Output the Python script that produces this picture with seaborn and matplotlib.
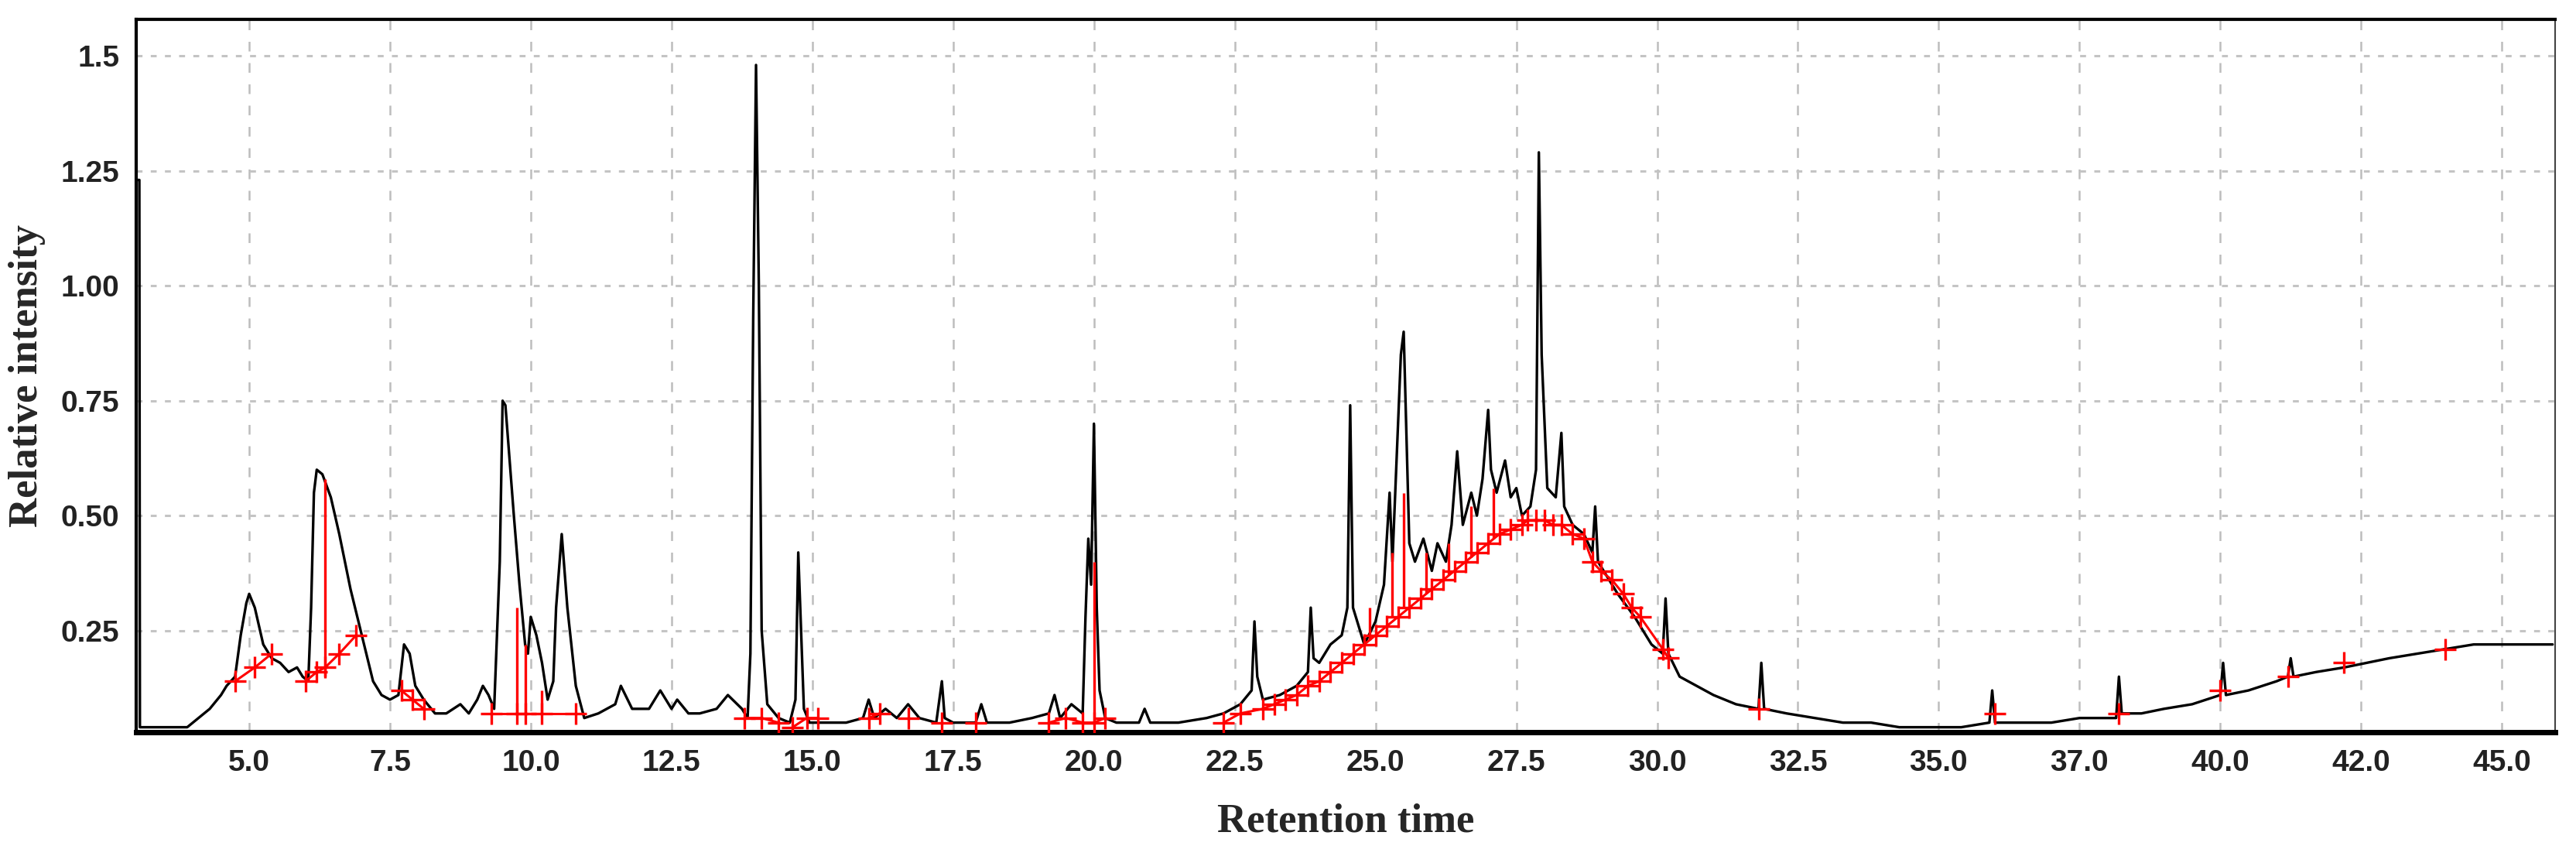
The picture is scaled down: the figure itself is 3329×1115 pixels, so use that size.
import matplotlib
matplotlib.use("Agg")
import matplotlib.pyplot as plt
import seaborn as sns
import pandas as pd

# chromatogram trace, vertices (retention time, intensity)
trace_rt = [3.00, 3.05, 3.06, 3.10, 3.5, 3.9, 4.1, 4.3, 4.5, 4.6, 4.75, 4.85, 4.95, 5.0, 5.1, 5.25, 5.4,
            5.55, 5.7, 5.85, 5.95, 6.05, 6.1, 6.15, 6.2, 6.3, 6.45, 6.6, 6.8, 7.0, 7.2, 7.35, 7.5,
            7.65, 7.75, 7.85, 7.95, 8.1, 8.3, 8.5, 8.75, 8.9, 9.05, 9.15, 9.25, 9.35, 9.45, 9.5, 9.55,
            9.7, 9.8, 9.9, 9.95, 10.0, 10.1, 10.2, 10.3, 10.4, 10.45, 10.55, 10.65, 10.8, 10.95, 11.2,
            11.5, 11.6, 11.8, 12.1, 12.3, 12.5, 12.6, 12.8, 13.0, 13.3, 13.5, 13.75, 13.85, 13.9, 13.95,
            14.0, 14.05, 14.1, 14.2, 14.4, 14.6, 14.7, 14.75, 14.8, 14.85, 14.95, 15.2, 15.6, 15.9,
            16.0, 16.1, 16.3, 16.5, 16.7, 16.9, 17.2, 17.3, 17.35, 17.5, 17.9, 18.0, 18.1, 18.5, 18.9,
            19.2, 19.3, 19.4, 19.6, 19.8, 19.85, 19.9, 19.95, 20.0, 20.05, 20.1, 20.2, 20.4, 20.8,
            20.9, 21.0, 21.5, 22.0, 22.3, 22.6, 22.8, 22.85, 22.9, 23.0, 23.3, 23.6, 23.8, 23.85,
            23.9, 24.0, 24.2, 24.4, 24.5, 24.55, 24.6, 24.8, 25.0, 25.15, 25.25, 25.3, 25.4, 25.45,
            25.5, 25.6, 25.7, 25.85, 26.0, 26.1, 26.25, 26.35, 26.45, 26.55, 26.7, 26.8, 26.9, 27.0,
            27.05, 27.15, 27.3, 27.4, 27.5, 27.6, 27.75, 27.85, 27.9, 27.95, 28.05, 28.2, 28.3, 28.35,
            28.5, 28.7, 28.85, 28.9, 28.95, 29.1, 29.3, 29.6, 29.9, 30.1, 30.15, 30.2, 30.4, 30.7,
            31.0, 31.4, 31.8, 31.85, 31.9, 32.3, 32.8, 33.3, 33.8, 34.3, 34.8, 35.4, 35.9, 35.95, 36.0,
            36.5, 37.0, 37.5, 38.0, 38.15, 38.2, 38.25, 38.6, 39.0, 39.5, 40.0, 40.05, 40.1, 40.5,
            41.0, 41.2, 41.25, 41.3, 41.7, 42.2, 42.6, 43.0, 43.5, 44.0, 44.5, 45.0, 45.5, 45.9]
trace_int = [1.23, 1.23, 0.04, 0.04, 0.04, 0.04, 0.06, 0.08, 0.11, 0.13, 0.15, 0.24, 0.31, 0.33, 0.30, 0.22, 0.19,
             0.18, 0.16, 0.17, 0.15, 0.14, 0.30, 0.55, 0.60, 0.59, 0.54, 0.46, 0.34, 0.24, 0.14, 0.11, 0.10,
             0.11, 0.22, 0.20, 0.13, 0.10, 0.07, 0.07, 0.09, 0.07, 0.10, 0.13, 0.11, 0.08, 0.40, 0.75, 0.74,
             0.50, 0.35, 0.22, 0.20, 0.28, 0.24, 0.18, 0.10, 0.14, 0.30, 0.46, 0.30, 0.13, 0.06, 0.07,
             0.09, 0.13, 0.08, 0.08, 0.12, 0.08, 0.10, 0.07, 0.07, 0.08, 0.11, 0.08, 0.06, 0.20, 0.93,
             1.48, 1.00, 0.25, 0.09, 0.06, 0.05, 0.10, 0.42, 0.25, 0.08, 0.05, 0.05, 0.05, 0.06,
             0.10, 0.06, 0.08, 0.06, 0.09, 0.06, 0.05, 0.14, 0.06, 0.05, 0.05, 0.09, 0.05, 0.05, 0.06,
             0.07, 0.11, 0.06, 0.09, 0.07, 0.28, 0.45, 0.35, 0.70, 0.30, 0.12, 0.06, 0.05, 0.05,
             0.08, 0.05, 0.05, 0.06, 0.07, 0.09, 0.12, 0.27, 0.15, 0.10, 0.11, 0.13, 0.16, 0.30,
             0.19, 0.18, 0.22, 0.24, 0.30, 0.74, 0.30, 0.22, 0.27, 0.35, 0.55, 0.40, 0.70, 0.85,
             0.90, 0.44, 0.40, 0.45, 0.38, 0.44, 0.40, 0.48, 0.64, 0.48, 0.55, 0.50, 0.58, 0.73,
             0.60, 0.55, 0.62, 0.54, 0.56, 0.50, 0.52, 0.60, 1.29, 0.85, 0.56, 0.54, 0.68, 0.52,
             0.48, 0.46, 0.42, 0.52, 0.40, 0.37, 0.33, 0.28, 0.22, 0.20, 0.32, 0.20, 0.15, 0.13,
             0.11, 0.09, 0.08, 0.18, 0.08, 0.07, 0.06, 0.05, 0.05, 0.04, 0.04, 0.04, 0.05, 0.12, 0.05,
             0.05, 0.05, 0.06, 0.06, 0.06, 0.15, 0.07, 0.07, 0.08, 0.09, 0.11, 0.18, 0.11, 0.12,
             0.14, 0.15, 0.19, 0.15, 0.16, 0.17, 0.18, 0.19, 0.20, 0.21, 0.22, 0.22, 0.22, 0.22]

# integration baselines (red), grouped by segment id
red_rt = [4.75, 5.1, 5.4, 6.0, 6.2, 6.35, 6.6, 6.9, 7.7, 7.9, 8.1, 9.3, 9.75, 9.9, 10.2, 10.8,
          13.8, 14.1, 14.4, 14.65, 14.9, 15.1, 16.0, 16.2, 16.7, 17.3, 17.9, 19.2, 19.5, 19.8, 20.0, 20.2,
          22.3, 22.6, 23.0, 23.2, 23.4, 23.6, 23.8, 24.0, 24.2, 24.4, 24.6, 24.8, 25.0, 25.2, 25.4, 25.6,
          25.8, 26.0, 26.2, 26.4, 26.6, 26.8, 27.0, 27.2, 27.4, 27.6, 27.7, 27.85, 28.0,
          28.15, 28.3, 28.5, 28.7, 28.85, 29.0, 29.2, 29.4, 29.55, 29.7, 30.1, 30.2,
          31.8, 36.0, 38.2, 40.0, 41.2, 42.2, 44.0]
red_int = [0.14, 0.17, 0.20, 0.14, 0.16, 0.17, 0.20, 0.24, 0.12, 0.10, 0.08, 0.07, 0.07, 0.07, 0.07, 0.07,
           0.06, 0.06, 0.05, 0.04, 0.06, 0.06, 0.06, 0.07, 0.06, 0.05, 0.05, 0.05, 0.06, 0.05, 0.05, 0.06,
           0.05, 0.07, 0.08, 0.09, 0.10, 0.11, 0.13, 0.14, 0.16, 0.18, 0.20, 0.22, 0.24, 0.26, 0.28, 0.30,
           0.32, 0.34, 0.36, 0.38, 0.40, 0.42, 0.44, 0.46, 0.47, 0.48, 0.49, 0.49, 0.49,
           0.48, 0.48, 0.46, 0.45, 0.40, 0.38, 0.36, 0.33, 0.30, 0.28, 0.21, 0.19,
           0.08, 0.07, 0.07, 0.12, 0.15, 0.18, 0.21]
red_seg = [0, 0, 0, 1, 1, 1, 1, 1, 2, 2, 2, 3, 3, 3, 3, 3,
           4, 4, 4, 5, 5, 5, 6, 6, 7, 8, 9, 10, 10, 10, 10, 10,
           11, 11, 11, 11, 11, 11, 11, 11, 11, 11, 11, 11, 11, 11, 11, 11,
           11, 11, 11, 11, 11, 11, 11, 11, 11, 11, 11, 11, 11,
           11, 11, 11, 11, 11, 11, 11, 11, 11, 11, 11, 11,
           12, 13, 14, 15, 16, 17, 18]

# red peak-split drop lines
drop_rt = [6.35, 9.75, 9.9, 10.2, 20.0, 24.9, 25.3, 25.5, 25.9, 26.3, 26.7, 27.1]
drop_lo = [0.15, 0.07, 0.07, 0.07, 0.05, 0.23, 0.28, 0.30, 0.33, 0.37, 0.41, 0.45]
drop_hi = [0.58, 0.30, 0.22, 0.12, 0.40, 0.30, 0.42, 0.55, 0.42, 0.44, 0.52, 0.56]

xtick_pos = [5.0, 7.5, 10.0, 12.5, 15.0, 17.5, 20.0, 22.5, 25.0, 27.5, 30.0, 32.5, 35.0, 37.5, 40.0, 42.5, 45.0]
xtick_lab = ["5.0", "7.5", "10.0", "12.5", "15.0", "17.5", "20.0", "22.5", "25.0", "27.5", "30.0",
             "32.5", "35.0", "37.0", "40.0", "42.0", "45.0"]
ytick_pos = [0.25, 0.50, 0.75, 1.00, 1.25, 1.5]
ytick_lab = ["0.25", "0.50", "0.75", "1.00", "1.25", "1.5"]

sns.set_style("white")
plt.rcParams["font.family"] = ["Liberation Sans", "DejaVu Sans"]

fig = plt.figure(figsize=(33.29, 11.15), dpi=100)
ax = fig.add_axes([0.053, 0.152, 0.939, 0.826])

trace = pd.DataFrame({"rt": trace_rt, "intensity": trace_int})
sns.lineplot(data=trace, x="rt", y="intensity", estimator=None, sort=False,
             color="black", linewidth=2.4, ax=ax)

red = pd.DataFrame({"rt": red_rt, "intensity": red_int, "seg": red_seg})
sns.lineplot(data=red, x="rt", y="intensity", units="seg", estimator=None, sort=False,
             color="red", linewidth=2.2, ax=ax)
sns.scatterplot(data=red, x="rt", y="intensity", marker="+", s=420, linewidth=2.4,
                color="red", ax=ax, zorder=4)
ax.vlines(drop_rt, drop_lo, drop_hi, color="red", linewidth=2.4)

ax.set_xlim(3.0, 45.95)
ax.set_ylim(0.03, 1.58)
ax.set_xticks(xtick_pos)
ax.set_xticklabels(xtick_lab)
ax.set_yticks(ytick_pos)
ax.set_yticklabels(ytick_lab)
ax.tick_params(axis="both", labelsize=28, length=0, pad=16)
for lab in ax.get_xticklabels() + ax.get_yticklabels():
    lab.set_fontweight("bold")
    lab.set_color("#222222")

ax.xaxis.grid(True, color="#bdbdbd", linestyle=(0, (5, 6)), linewidth=1.8)
ax.yaxis.grid(True, color="#c4c4c4", linestyle=(0, (2.5, 3.5)), linewidth=2.2)

for side in ["top", "left", "bottom"]:
    ax.spines[side].set_color("black")
    ax.spines[side].set_linewidth(3)
ax.spines["bottom"].set_linewidth(5)
ax.spines["right"].set_color("#444444")
ax.spines["right"].set_linewidth(1.5)

ax.set_xlabel("Retention time", fontsize=38, fontweight="bold", family="Liberation Serif", labelpad=24)
ax.set_ylabel("Relative intensity", fontsize=38, fontweight="bold", family="Liberation Serif", labelpad=14)

fig.savefig("out.png", dpi=100)
